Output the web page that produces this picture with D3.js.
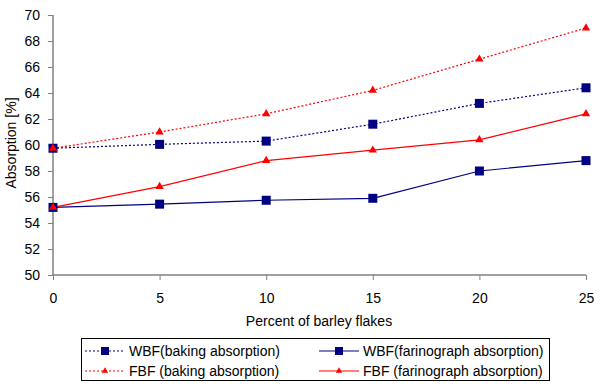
<!DOCTYPE html>
<html><head><meta charset="utf-8">
<script src="https://cdn.jsdelivr.net/npm/d3@7"></script>
<style>body{margin:0;background:#fff}svg{display:block}text{font-family:"Liberation Sans",Arial,sans-serif}</style>
</head><body>
<svg id="c" width="600" height="387"></svg>
<script>
const xValues = [0, 5, 10, 15, 20, 25];
const wbfBaking = [59.75, 60.05, 60.3, 61.6, 63.2, 64.4];
const wbfFarino = [55.2, 55.45, 55.75, 55.9, 58.0, 58.8];
const fbfBaking = [59.75, 61.0, 62.4, 64.2, 66.6, 69.0];
const fbfFarino = [55.2, 56.8, 58.8, 59.6, 60.4, 62.4];
const yTicks = [50, 52, 54, 56, 58, 60, 62, 64, 66, 68, 70];
const xTicks = [0, 5, 10, 15, 20, 25];
const seriesNames = ["WBF(baking absorption)", "WBF(farinograph absorption)", "FBF (baking absorption)", "FBF (farinograph absorption)"];

const svg = d3.select("#c");
const x = d3.scaleLinear().domain([0, 25]).range([53, 586]);
const y = d3.scaleLinear().domain([50, 70]).range([275, 15]);

const yAxis = svg.append("g").attr("transform", "translate(53,0)")
  .call(d3.axisLeft(y).tickValues(yTicks).tickSize(5).tickPadding(8).tickFormat(d3.format("d")));
const xAxis = svg.append("g").attr("transform", "translate(0,275)")
  .call(d3.axisBottom(x).tickValues(xTicks).tickSize(5).tickPadding(13).tickFormat(d3.format("d")));
[yAxis, xAxis].forEach(a => {
  a.select(".domain").attr("stroke", "#808080").attr("stroke-width", 1.5);
  a.selectAll(".tick line").attr("stroke", "#808080");
  a.selectAll("text").attr("font-size", 14).attr("fill", "#000").attr("font-family", "Liberation Sans, Arial, sans-serif");
});
xAxis.select(".domain").attr("d", "M53,0H586");
yAxis.select(".domain").attr("d", "M0,15V275");

svg.append("text").attr("transform", "translate(16,143) rotate(-90)").attr("text-anchor", "middle")
  .attr("font-size", 14).text("Absorption [%]");
svg.append("text").attr("x", 319).attr("y", 326).attr("text-anchor", "middle")
  .attr("font-size", 14).text("Percent of barley flakes");

const series = [
  {name: seriesNames[0], vals: wbfBaking, color: "#000080", dash: "2,2", marker: "square"},
  {name: seriesNames[1], vals: wbfFarino, color: "#000080", dash: null, marker: "square"},
  {name: seriesNames[2], vals: fbfBaking, color: "#ff0000", dash: "2,2", marker: "triangle"},
  {name: seriesNames[3], vals: fbfFarino, color: "#ff0000", dash: null, marker: "triangle"}
];
const line = d3.line().x((d, i) => x(xValues[i])).y(d => y(d));
const sq = d3.symbol().type(d3.symbolSquare).size(81);
const tri = d3.symbol().type(d3.symbolTriangle).size(30);
const sqL = d3.symbol().type(d3.symbolSquare).size(64);
const triL = d3.symbol().type(d3.symbolTriangle).size(18);

series.forEach(s => {
  svg.append("path").attr("d", line(s.vals)).attr("fill", "none").attr("stroke", s.color)
    .attr("stroke-width", 1.2).attr("stroke-dasharray", s.dash);
});
series.forEach(s => {
  svg.selectAll(null).data(s.vals).enter().append("path")
    .attr("d", s.marker === "square" ? sq : tri)
    .attr("transform", (d, i) => `translate(${x(xValues[i])},${y(d)})`)
    .attr("fill", s.color);
});

// legend
const lg = svg.append("g");
lg.append("rect").attr("x", 81.5).attr("y", 338.5).attr("width", 468).attr("height", 42)
  .attr("fill", "#fff").attr("stroke", "#000").attr("stroke-width", 1);
const legPos = [[85, 351], [319, 351], [85, 371], [319, 371]];
series.forEach((s, i) => {
  const [lx, ly] = legPos[i];
  lg.append("line").attr("x1", lx).attr("x2", lx + 40).attr("y1", ly).attr("y2", ly)
    .attr("stroke", s.color).attr("stroke-width", 1.2).attr("stroke-dasharray", s.dash);
  lg.append("path").attr("d", s.marker === "square" ? sqL() : triL())
    .attr("transform", `translate(${lx + 20},${ly})`).attr("fill", s.color);
  lg.append("text").attr("x", lx + 44).attr("y", ly + 5).attr("font-size", 14).text(s.name);
});
</script>
</body></html>
